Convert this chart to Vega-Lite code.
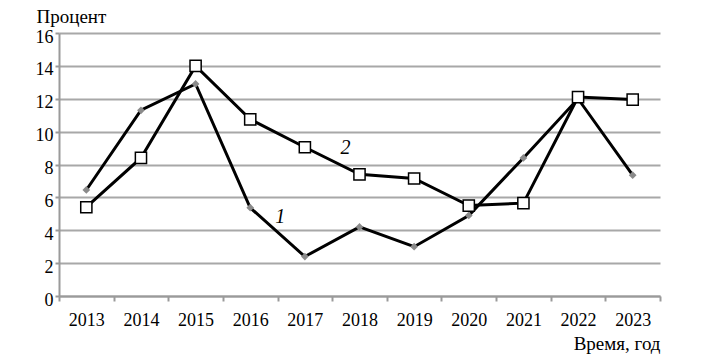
{
  "$schema": "https://vega.github.io/schema/vega-lite/v6.json",
  "width": 601,
  "height": 263,
  "autosize": "none",
  "padding": {"left": 59, "top": 33, "right": 44, "bottom": 61},
  "background": "white",
  "config": {
    "view": {"stroke": null},
    "font": "Liberation Serif",
    "axis": {"labelFont": "Liberation Serif", "titleFont": "Liberation Serif", "labelColor": "black", "titleColor": "black", "titleFontWeight": "normal", "labelFontSize": 18, "titleFontSize": 19, "domainColor": "#9a9a9a", "tickColor": "#9a9a9a", "domainWidth": 2, "tickWidth": 2, "gridColor": "#a8a8a8", "gridWidth": 2}
  },
  "datasets": {
    "main": [
      {"year": "2013", "series": "1", "value": 6.45},
      {"year": "2014", "series": "1", "value": 11.3},
      {"year": "2015", "series": "1", "value": 12.9},
      {"year": "2016", "series": "1", "value": 5.37},
      {"year": "2017", "series": "1", "value": 2.4},
      {"year": "2018", "series": "1", "value": 4.2},
      {"year": "2019", "series": "1", "value": 3.0},
      {"year": "2020", "series": "1", "value": 4.9},
      {"year": "2021", "series": "1", "value": 8.4},
      {"year": "2022", "series": "1", "value": 12.0},
      {"year": "2023", "series": "1", "value": 7.35},
      {"year": "2013", "series": "2", "value": 5.4},
      {"year": "2014", "series": "2", "value": 8.4},
      {"year": "2015", "series": "2", "value": 14.0},
      {"year": "2016", "series": "2", "value": 10.75},
      {"year": "2017", "series": "2", "value": 9.05},
      {"year": "2018", "series": "2", "value": 7.4},
      {"year": "2019", "series": "2", "value": 7.15},
      {"year": "2020", "series": "2", "value": 5.5},
      {"year": "2021", "series": "2", "value": 5.65},
      {"year": "2022", "series": "2", "value": 12.1},
      {"year": "2023", "series": "2", "value": 11.95}
    ],
    "labels": [
      {"year": "2016", "value": 4.8, "text": "1"},
      {"year": "2018", "value": 9.0, "text": "2"}
    ]
  },
  "encoding": {
    "x": {"field": "year", "type": "ordinal",
      "scale": {"type": "band", "paddingInner": 0, "paddingOuter": 0, "domain": ["2013","2014","2015","2016","2017","2018","2019","2020","2021","2022","2023"]},
      "axis": {"title": "Время, год", "labelAngle": 0, "tickBand": "extent", "tickSize": 5, "labelPadding": 10, "titleAnchor": "end", "titleAlign": "right", "titleX": 601, "titleY": 47, "titleBaseline": "middle", "grid": false}},
    "y": {"field": "value", "type": "quantitative",
      "scale": {"domain": [0, 16], "nice": false},
      "axis": {"title": "Процент", "values": [0,2,4,6,8,10,12,14,16], "tickSize": 4, "labelPadding": 2, "labelOffset": 4, "titleAngle": 0, "titleAlign": "left", "titleX": -23, "titleY": -17, "titleBaseline": "middle", "grid": true}}
  },
  "layer": [
    {"data": {"name": "main"}, "mark": {"type": "line", "color": "black", "strokeWidth": 3}, "encoding": {"detail": {"field": "series"}}},
    {"data": {"name": "main"}, "transform": [{"filter": "datum.series === '1'"}], "mark": {"type": "point", "shape": "diamond", "filled": true, "color": "#8a8a8a", "size": 60, "opacity": 1}},
    {"data": {"name": "main"}, "transform": [{"filter": "datum.series === '2'"}], "mark": {"type": "point", "shape": "square", "filled": true, "fill": "white", "stroke": "black", "strokeWidth": 1.5, "size": 125, "opacity": 1}},
    {"data": {"name": "labels"}, "transform": [{"filter": "datum.text === '1'"}], "mark": {"type": "text", "fontStyle": "italic", "fontSize": 20, "font": "Liberation Serif", "color": "black", "baseline": "middle", "dx": 30}, "encoding": {"text": {"field": "text"}}},
    {"data": {"name": "labels"}, "transform": [{"filter": "datum.text === '2'"}], "mark": {"type": "text", "fontStyle": "italic", "fontSize": 20, "font": "Liberation Serif", "color": "black", "baseline": "middle", "dx": -14}, "encoding": {"text": {"field": "text"}}}
  ]
}
